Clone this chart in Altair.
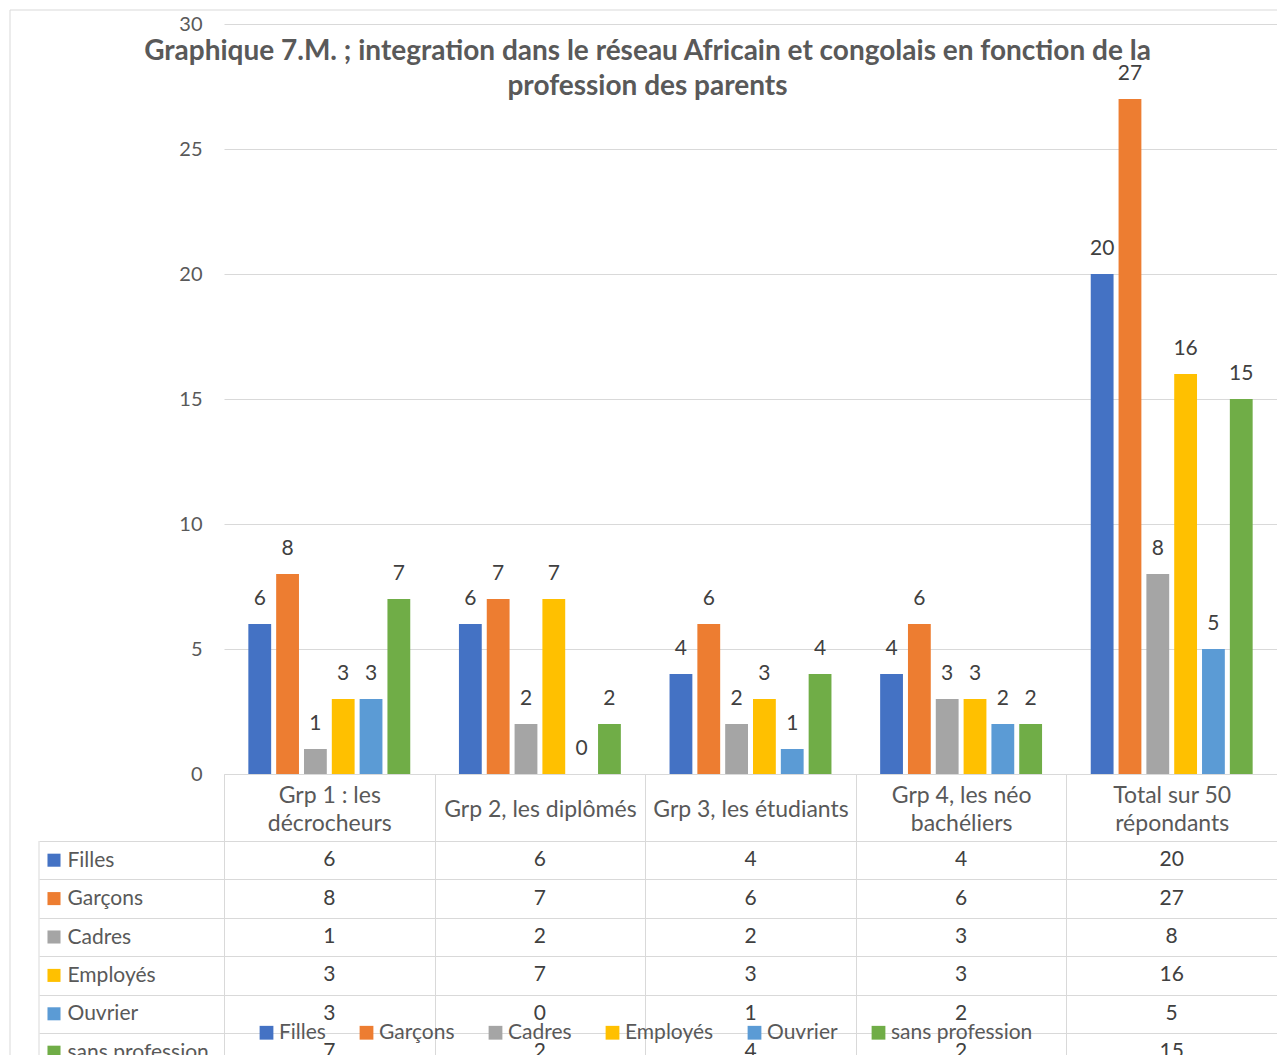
import altair as alt
import pandas as pd

categories = ["Grp 1 : les décrocheurs", "Grp 2, les diplômés", "Grp 3, les étudiants",
              "Grp 4, les néo bachéliers", "Total sur 50 répondants"]
# header cell text, split into its lines as in the reference
header_lines = [["Grp 1 : les", "décrocheurs"], ["Grp 2, les diplômés"], ["Grp 3, les étudiants"],
                ["Grp 4, les néo", "bachéliers"], ["Total sur 50", "répondants"]]
series = ["Filles", "Garçons", "Cadres", "Employés", "Ouvrier", "sans profession"]
filles = [6, 6, 4, 4, 20]
garcons = [8, 7, 6, 6, 27]
cadres = [1, 2, 2, 3, 8]
employes = [3, 7, 3, 3, 16]
ouvrier = [3, 0, 1, 2, 5]
sans_profession = [7, 2, 4, 2, 15]
colors = ["#4472C4", "#ED7D31", "#A5A5A5", "#FFC000", "#5B9BD5", "#70AD47"]
y_ticks = [0, 5, 10, 15, 20, 25, 30]
title_lines = ["Graphique 7.M. ; integration dans le réseau Africain et congolais en fonction  de la",
               "profession des parents"]

values = [filles, garcons, cadres, employes, ouvrier, sans_profession]
rows = []
for s, vals in zip(series, values):
    for c, v in zip(categories, vals):
        rows.append({"groupe": c, "serie": s, "valeur": v})
df = pd.DataFrame(rows)
series_df = pd.DataFrame({"serie": series})
one = pd.DataFrame({"k": [0]})

FONT = "Lato"
GRID = "#d9d9d9"
TXT = "#595959"
DARK = "#404040"
W, H = 1053, 750          # bar plot area
HEAD = 67                 # header row height
ROW = 38.4                # table row height
TAB0 = H + HEAD           # table top, relative to the plot's top
BOTTOM = 1040


def js(s):
    return "'" + s.replace("'", "\\'") + "'"


# multi-line header labels
label_expr = ""
for c, lines in zip(categories, header_lines):
    label_expr += f"datum.label == {js(c)} ? [" + ",".join(js(l) for l in lines) + "] : "
label_expr += "datum.label"
single = [c for c, lines in zip(categories, header_lines) if len(lines) == 1]
single_test = " || ".join(f"datum.value == {js(c)}" for c in single)

color_scale = alt.Scale(domain=series, range=colors)
legend = alt.Legend(orient="none", direction="horizontal", legendX=32, legendY=998,
                    title=None, symbolType="square", symbolSize=190, symbolStrokeWidth=0,
                    labelFont=FONT, labelFontSize=21, labelColor=TXT, columnPadding=30,
                    labelOffset=2)
color = alt.Color("serie:N", sort=series, scale=color_scale, legend=legend)

x_enc = alt.X("groupe:N", sort=categories, title=None,
              scale=alt.Scale(domain=categories, paddingInner=0, paddingOuter=0),
              axis=alt.Axis(labelExpr=label_expr, labelAngle=0, tickBand="extent", tickSize=289,
                            tickColor=GRID, domainColor=GRID, labelPadding=-268,
                            labelBaseline={"condition": {"test": single_test, "value": "line-top"},
                                           "value": "middle"},
                            labelLineHeight=28, labelFont=FONT,
                            labelFontSize=23, labelColor=TXT, grid=False, labelLimit=400,
                            labelOverlap=False))

base = alt.Chart(df).encode(
    x=x_enc,
    xOffset=alt.XOffset("serie:N", sort=series,
                        scale=alt.Scale(domain=series, paddingInner=0.18, paddingOuter=0.875)),
    y=alt.Y("valeur:Q", title=None, scale=alt.Scale(domain=[0, 30]),
            axis=alt.Axis(values=y_ticks, grid=True, gridColor=GRID, domain=False, ticks=False,
                          labelPadding=22, labelFont=FONT, labelFontSize=20, labelColor=TXT)),
)
bars = base.mark_bar().encode(color=color)
bar_labels = base.mark_text(dy=-25, baseline="middle", font=FONT, fontSize=21, color=DARK).encode(
    text="valeur:Q")
top = alt.layer(bars, bar_labels)

y_tab = alt.Y("serie:N", sort=series, title=None,
              scale=alt.Scale(domain=series, range=[TAB0, TAB0 + 6 * ROW],
                              paddingInner=0, paddingOuter=0),
              axis=alt.Axis(orient="left", tickBand="extent", tickSize=185, tickColor=GRID,
                            grid=True, gridColor=GRID, domain=False, labelAlign="left",
                            labelPadding=-28, labelFont=FONT, labelFontSize=21, labelColor=TXT,
                            labelBaseline="middle", labelLimit=300))
table_text = alt.Chart(df).mark_text(font=FONT, fontSize=21, color=DARK).encode(
    x=x_enc, y=y_tab, text="valeur:Q")
squares = alt.Chart(series_df).mark_square(size=170, opacity=1).encode(
    x=alt.value(-170), y=y_tab, color=color)
table = alt.layer(table_text, squares)

frame_top = alt.Chart(one).mark_rule(color=GRID).encode(
    x=alt.value(-214), x2=alt.value(W), y=alt.value(-14))
frame_left = alt.Chart(one).mark_rule(color=GRID).encode(
    x=alt.value(-214), y=alt.value(-14), y2=alt.value(BOTTOM))
table_left = alt.Chart(one).mark_rule(color=GRID).encode(
    x=alt.value(-185), y=alt.value(TAB0), y2=alt.value(BOTTOM))

chart = alt.layer(frame_top, frame_left, table_left, top, table).resolve_scale(
    y="independent"
).properties(
    width=W, height=H,
    autosize=alt.AutoSizeParams(type="none"),
    padding={"left": 216, "top": 16, "right": 0, "bottom": 281},
    title=alt.TitleParams(text=title_lines, font=FONT, fontSize=28, fontWeight="bold", color=TXT,
                          anchor="middle", offset=-91, dx=-103, lineHeight=35),
).configure_view(strokeWidth=0)

chart.save("out.html", embed_options={"renderer": "svg", "actions": False})
